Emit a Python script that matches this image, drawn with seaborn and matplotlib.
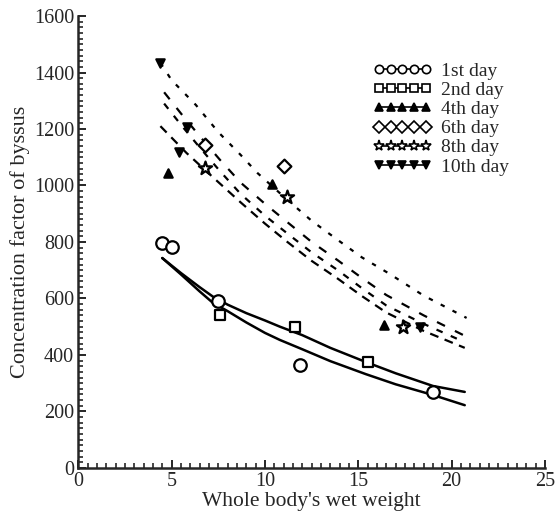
import pandas as pd
import matplotlib.pyplot as plt
import seaborn as sns
from matplotlib.lines import Line2D
from matplotlib.ticker import MultipleLocator

sns.set_style("ticks")
plt.rcParams['font.family'] = ['Liberation Serif', 'DejaVu Serif']

days = ['1st day', '2nd day', '4th day', '6th day', '8th day', '10th day']

# measured points (weight, concentration factor)
pts_x = {
    '1st day': [4.5, 5.0, 7.5, 11.9, 19.0],
    '2nd day': [7.6, 11.6, 15.5],
    '4th day': [4.8, 10.4, 16.4],
    '6th day': [6.8, 11.0],
    '8th day': [6.8, 11.2, 17.4],
    '10th day': [4.4, 5.4, 5.8, 18.3],
}
pts_y = {
    '1st day': [798, 782, 591, 363, 270],
    '2nd day': [540, 500, 374],
    '4th day': [1044, 1005, 506],
    '6th day': [1143, 1068],
    '8th day': [1062, 958, 500],
    '10th day': [1434, 1120, 1207, 500],
}

# fitted curves
curve_x = {
    '1st day': [4.5, 5.5, 6.5, 7.2, 8, 9, 10, 10.8, 12, 13.5, 15.4, 17, 19, 20.7],
    '2nd day': [4.5, 5.5, 6.5, 7.2, 8, 9, 10, 10.8, 12, 13.5, 15.4, 17, 19, 20.7],
    '4th day': [4.4, 5.8, 7.2, 8.7, 10, 11.2, 12.5, 13.9, 15.2, 16.5, 18.5, 20.7],
    '6th day': [4.6, 5.5, 6.5, 7.6, 8.7, 10, 11.2, 12.5, 13.9, 15.2, 16.5, 18.5, 20.7],
    '8th day': [4.6, 5.5, 6.5, 7.6, 8.7, 10, 11.2, 12.5, 13.9, 15.2, 16.5, 18.5, 20.6],
    '10th day': [4.4, 5.0, 6.3, 7.5, 8.7, 9.6, 11.2, 12.5, 13.9, 15.2, 16.6, 18.5, 20.8],
}
curve_y = {
    '1st day': [743, 685, 625, 585, 555, 515, 478, 453, 420, 378, 332, 296, 258, 222],
    '2nd day': [743, 690, 640, 607, 578, 548, 522, 500, 470, 425, 375, 335, 290, 269],
    '4th day': [1210, 1115, 1030, 940, 865, 800, 733, 670, 608, 550, 485, 425],
    '6th day': [1290, 1215, 1135, 1050, 970, 893, 830, 763, 700, 636, 575, 510, 445],
    '8th day': [1330, 1255, 1175, 1090, 1010, 935, 870, 800, 735, 672, 612, 540, 471],
    '10th day': [1434, 1373, 1285, 1189, 1108, 1044, 949, 875, 807, 745, 690, 610, 531],
}

markers = {'1st day': 'o', '2nd day': 's', '4th day': '^', '6th day': 'D',
           '8th day': '*', '10th day': 'v'}
filled = {'1st day': False, '2nd day': False, '4th day': True, '6th day': False,
          '8th day': False, '10th day': True}
msize = {'1st day': 9, '2nd day': 7, '4th day': 6, '6th day': 7,
         '8th day': 10, '10th day': 6}
lstyle = {'1st day': '-', '2nd day': '-', '4th day': (0, (4, 3)),
          '6th day': (0, (3, 4)), '8th day': (0, (4, 5)), '10th day': (0, (2, 4))}

pts = pd.DataFrame([(d, x, y) for d in days for x, y in zip(pts_x[d], pts_y[d])],
                   columns=['day', 'weight', 'cf'])
crv = pd.DataFrame([(d, x, y) for d in days for x, y in zip(curve_x[d], curve_y[d])],
                   columns=['day', 'weight', 'cf'])

fig = plt.figure(figsize=(5.59, 5.17), dpi=100)
ax = fig.add_axes([0.14, 0.095, 0.835, 0.874])

for d in days:
    sub = crv[crv.day == d]
    sns.lineplot(data=sub, x='weight', y='cf', ax=ax, color='black',
                 linewidth=1.8 if lstyle[d] == '-' else 1.6, sort=False)
    ax.lines[-1].set_linestyle(lstyle[d])
    sp = pts[pts.day == d]
    sns.scatterplot(data=sp, x='weight', y='cf', ax=ax, marker=markers[d],
                    s=msize[d] ** 2,
                    facecolor='black' if filled[d] else 'white',
                    edgecolor='black', linewidth=1.6, zorder=3)

ax.set_xlim(0, 25)
ax.set_ylim(0, 1600)
ax.xaxis.set_major_locator(MultipleLocator(5))
ax.xaxis.set_minor_locator(MultipleLocator(0.5))
ax.yaxis.set_major_locator(MultipleLocator(200))
ax.yaxis.set_minor_locator(MultipleLocator(20))
ax.tick_params(which='major', direction='in', length=6, width=1.4, labelsize=14.5, pad=3)
ax.tick_params(which='minor', direction='in', length=3.5, width=1.2)
for s in ['top', 'right']:
    ax.spines[s].set_visible(False)
for s in ['left', 'bottom']:
    ax.spines[s].set_linewidth(1.8)

ax.set_xlabel("Whole body's wet weight", fontsize=15.5, labelpad=1)
ax.set_ylabel('Concentration factor of byssus', fontsize=16, labelpad=3)

handles = [Line2D([], [], color='black', marker=markers[d], linestyle='-',
                  linewidth=1.2, markersize=6 if d != '8th day' else 8,
                  markerfacecolor='black' if filled[d] else 'white',
                  markeredgecolor='black', markeredgewidth=1.2) for d in days]
ax.legend(handles, days, loc='upper left', bbox_to_anchor=(0.615, 0.915),
          frameon=False, numpoints=5, handlelength=3.0, handletextpad=0.5,
          labelspacing=0.08, fontsize=14, borderaxespad=0)

fig.savefig('out.png', dpi=100)
